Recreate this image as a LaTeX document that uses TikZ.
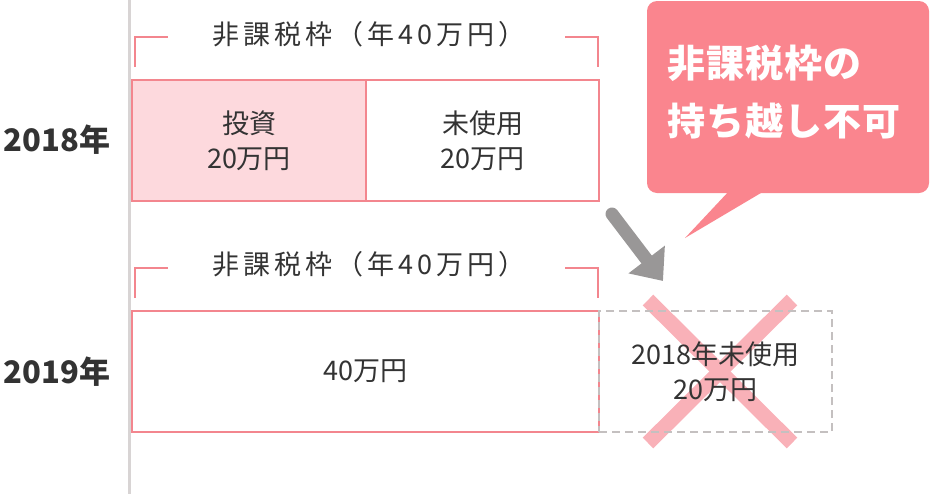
\documentclass[tikz,border=0pt]{standalone}
\usepackage{fontspec}
\newfontfamily\jp{Noto Sans CJK JP}
\usetikzlibrary{arrows.meta}
\definecolor{pinkline}{RGB}{243,134,142}
\definecolor{pinkfill}{RGB}{253,217,221}
\definecolor{callout}{RGB}{250,133,142}
\definecolor{crosspink}{RGB}{249,177,184}
\definecolor{arrowgray}{RGB}{153,151,151}
\definecolor{axisgray}{RGB}{216,212,212}
\definecolor{dashgray}{RGB}{196,192,192}
\definecolor{txt}{RGB}{51,51,51}
\tikzset{
  box/.style={draw=pinkline, line width=2, minimum height=121, anchor=north west, inner sep=0, align=center, text=txt, font=\jp\fontsize{27}{35}\selectfont},
  bracket/.style={draw=pinkline, line width=2},
  bracketlabel/.style={text=txt, font=\jp\fontsize{27}{30}\selectfont\addfontfeature{LetterSpace=15}, inner sep=0},
  yearlabel/.style={text=txt, font=\jp\bfseries\fontsize{31}{31}\selectfont, inner sep=0},
}
\begin{document}
\begin{tikzpicture}[x=1pt,y=-1pt]
\useasboundingbox (0,0) rectangle (930,496);
% axis
\draw[axisgray, line width=3] (129,0) -- (129,494);
% ---------- 2018 ----------
\draw[bracket] (135,67) -- (135,37) -- (168,37);
\draw[bracket] (565,37) -- (598,37) -- (598,67);
\node[bracketlabel] (lab1) at (369,34) {非課税枠（年40万円）};
\node[box, fill=pinkfill, minimum width=234] (inv) at (131,79) {投資\\20万円};
\node[box, minimum width=233] (unused) at (365,79) {未使用\\20万円};
\node[yearlabel] (y2018) at (57,140) {2018年};
% ---------- 2019 ----------
\draw[bracket] (135,298) -- (135,268) -- (168,268);
\draw[bracket] (565,268) -- (598,268) -- (598,298);
\node[bracketlabel] (lab2) at (369,264) {非課税枠（年40万円）};
\node[box, minimum width=467] (full) at (131,310) {40万円};
\node[yearlabel] (y2019) at (57,372) {2019年};
% cross
\draw[crosspink, line width=15] (648,300) -- (792,443);
\draw[crosspink, line width=15] (792,300) -- (648,443);
\node[box, draw=dashgray, dashed, dash pattern=on 8pt off 5pt, minimum width=233] (carry) at (598,310) {2018年未使用\\20万円};
% arrow
\coordinate (arrS) at (612,214);
\coordinate (arrE) at (663,281);
\draw[arrowgray, line width=13, line cap=round, -{Triangle[length=27pt,width=44pt]}] (arrS) -- (arrE);
% callout
\fill[callout, rounded corners=10] (647,1) rectangle (929,193);
\fill[callout] (730,190) -- (685,238) -- (766,190) -- cycle;
\node[anchor=west, align=left, text=white, inner sep=0, font=\jp\bfseries\fontsize{38}{58}\selectfont\addfontfeature{LetterSpace=3}] (msg) at (667,92) {非課税枠の\\持ち越し不可};
\end{tikzpicture}
\end{document}
